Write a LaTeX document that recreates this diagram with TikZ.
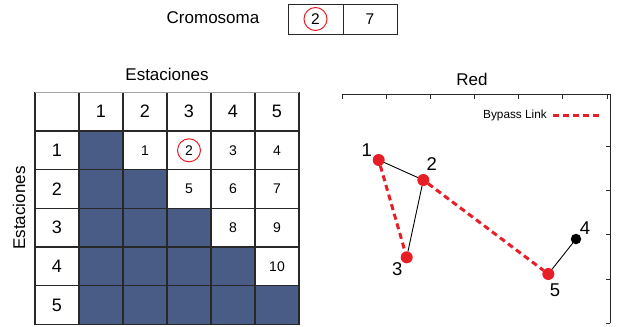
\documentclass[tikz,border=0pt]{standalone}
\usepackage{fontspec}
\setmainfont{Liberation Sans}
\definecolor{darkcell}{RGB}{73,92,134}
\definecolor{gridc}{RGB}{40,40,40}
\definecolor{redc}{RGB}{232,30,38}
\begin{document}
\begin{tikzpicture}[x=1pt,y=-1pt,
  cell/.style={draw=gridc,line width=1.1pt,minimum width=44pt,minimum height=38.67pt,inner sep=0pt,outer sep=0pt,fill=white},
  dcell/.style={cell,fill=darkcell},
  hdr/.style={font=\fontsize{18}{20}\selectfont,inner sep=0pt},
  num/.style={font=\fontsize{14}{16}\selectfont,inner sep=0pt},
  ttl/.style={font=\fontsize{17}{20}\selectfont,inner sep=0pt},
  gene/.style={draw=gridc,line width=0.9pt,minimum height=30pt,inner sep=0pt,outer sep=0pt,font=\fontsize{15.5}{17}\selectfont},
  rmark/.style={draw=redc,line width=1pt},
  rnode/.style={circle,fill=redc,minimum size=12pt,inner sep=0pt,outer sep=0pt},
  bnode/.style={circle,fill=black,minimum size=10.5pt,inner sep=0pt,outer sep=0pt},
  nlab/.style={font=\fontsize{18.5}{20}\selectfont,inner sep=0pt},
  solidlink/.style={line width=0.9pt,black},
  bypass/.style={line width=3pt,redc,dash pattern=on 6pt off 4pt},
  axis/.style={line width=0.9pt,gridc}
]
\useasboundingbox (0,0) rectangle (622,327);

% chromosome
\node[ttl] (crom) at (213,18) {Cromosoma};
\node[gene,minimum width=55pt] (g1) at (315.5,19) {2};
\node[gene,minimum width=54pt,anchor=west] (g2) at (g1.east) {7};
\draw[rmark] (g1) circle (11.5);

% matrix
\node[ttl] (estT) at (167,74) {Estaciones};
\node[ttl,rotate=90] (estL) at (19,208) {Estaciones};
\foreach \r in {0,...,5}{
  \foreach \c in {0,...,5}{
    \def\st{cell}
    \ifnum\r>0 \ifnum\c>0 \ifnum\c>\r \else \def\st{dcell}\fi\fi\fi
    \node[\st] (c\r\c) at ({57+44*\c},{111.63+38.67*\r}) {};
  }
}
\draw[line width=1.1pt,gray!70] (c00.north west) -- (c05.north east);
\foreach \c in {1,...,5}{ \node[hdr] (h\c) at (c0\c) {\c}; }
\foreach \r in {1,...,5}{ \node[hdr] (v\r) at (c\r0) {\r}; }
\node[num] (m12) at (c12) {1};
\node[num] (m13) at (c13) {2};
\node[num] (m14) at (c14) {3};
\node[num] (m15) at (c15) {4};
\node[num] (m23) at (c23) {5};
\node[num] (m24) at (c24) {6};
\node[num] (m25) at (c25) {7};
\node[num] (m34) at (c34) {8};
\node[num] (m35) at (c35) {9};
\node[num] (m45) at (c45) {10};
\draw[rmark] (c13) circle (11.5);

% network panel
\node[ttl] (redT) at (472,79) {Red};
\draw[axis] (342.7,94.3) -- (610,94.3) -- (610,323);
\foreach \x in {342.7,386.7,430.7,474.7,518.7,562.7,607}{ \draw[axis] (\x,94.3) -- (\x,98.8); }
\foreach \y in {146,190.7,234.7,279,323}{ \draw[axis] (610,\y) -- (605.5,\y); }

\node[font=\fontsize{11.8}{13}\selectfont,inner sep=0pt] (leg) at (515,115) {Bypass Link};
\coordinate (legA) at (553,115);
\coordinate (legB) at (602,115);
\draw[bypass] (legA) -- (legB);

\node[rnode] (n1) at (378.7,160) {};
\node[rnode] (n2) at (423.3,180) {};
\node[rnode] (n3) at (406.7,257.3) {};
\node[rnode] (n5) at (548.3,274) {};
\node[bnode] (n4) at (576,239) {};

\draw[solidlink] (n1) -- (n2);
\draw[solidlink] (n2) -- (n3);
\draw[solidlink] (n5) -- (n4);
\draw[bypass] (n1) -- (n3);
\draw[bypass] (n2) -- (n5);

\node[nlab] (l1) at (366.7,150) {1};
\node[nlab] (l2) at (431.7,164) {2};
\node[nlab] (l3) at (397.3,269.3) {3};
\node[nlab] (l5) at (555,290.7) {5};
\node[nlab] (l4) at (585,228.3) {4};
\end{tikzpicture}
\end{document}
